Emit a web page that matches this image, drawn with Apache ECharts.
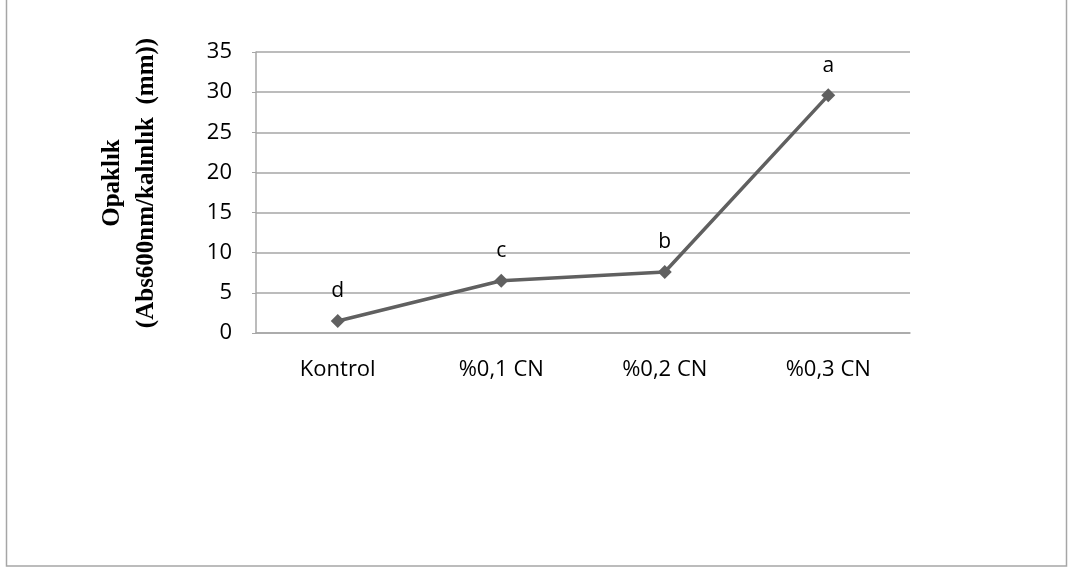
<!DOCTYPE html>
<html>
<head>
<meta charset="utf-8">
<script src="https://cdn.jsdelivr.net/npm/echarts@6/dist/echarts.min.js"></script>
<style>
  html, body { margin: 0; padding: 0; background: #fff; }
  #chart { width: 1069px; height: 571px; }
</style>
</head>
<body>
<div id="chart"></div>
<script>
// Opacity of films by treatment
const categories = ['Kontrol', '%0,1 CN', '%0,2 CN', '%0,3 CN'];
const opacity = [1.5, 6.5, 7.6, 29.6];
const letters = ['d', 'c', 'b', 'a'];
const yTicks = { min: 0, max: 35, interval: 5 };
const yTitle = 'Opaklık\n(Abs600nm/kalınlık  (mm))';

const chart = echarts.init(document.getElementById('chart'), null, { renderer: 'canvas' });

chart.setOption({
  animation: false,
  backgroundColor: '#fff',
  graphic: [{
    type: 'rect',
    shape: { x: 6.5, y: -10, width: 1060, height: 576 },
    style: { fill: 'none', stroke: '#a6a6a6', lineWidth: 1.5 },
    silent: true
  }, {
    type: 'text',
    rotation: Math.PI / 2,
    x: 130,
    y: 183,
    style: {
      text: yTitle,
      font: 'bold 25px "Liberation Serif", "DejaVu Serif", serif',
      fill: '#000',
      align: 'center',
      verticalAlign: 'middle',
      lineHeight: 34
    }
  }],
  grid: { left: 256, right: 159, top: 52, bottom: 238, containLabel: false },
  xAxis: {
    type: 'category',
    data: categories,
    boundaryGap: true,
    axisLine: { show: true, lineStyle: { color: '#a6a6a6', width: 1.5 } },
    axisTick: { show: false },
    axisLabel: {
      color: '#000',
      fontSize: 22,
      fontFamily: '"Open Sans", "Liberation Sans", sans-serif',
      margin: 26
    }
  },
  yAxis: {
    type: 'value',
    min: yTicks.min,
    max: yTicks.max,
    interval: yTicks.interval,
    axisLine: { show: true, lineStyle: { color: '#a6a6a6', width: 1.5 } },
    axisTick: { show: true, length: 4, lineStyle: { color: '#a6a6a6' } },
    splitLine: { show: true, lineStyle: { color: '#a6a6a6', width: 1.5 } },
    axisLabel: {
      color: '#000',
      fontSize: 22,
      fontFamily: '"Open Sans", "Liberation Sans", sans-serif',
      margin: 24
    }
  },
  series: [{
    type: 'line',
    data: opacity,
    symbol: 'diamond',
    symbolSize: 14,
    lineStyle: { color: '#606060', width: 3.5 },
    itemStyle: { color: '#606060' },
    label: {
      show: true,
      position: 'top',
      distance: 12,
      color: '#000',
      fontSize: 21,
      fontFamily: '"Open Sans", "Liberation Sans", sans-serif',
      formatter: p => letters[p.dataIndex]
    }
  }]
});
</script>
</body>
</html>
